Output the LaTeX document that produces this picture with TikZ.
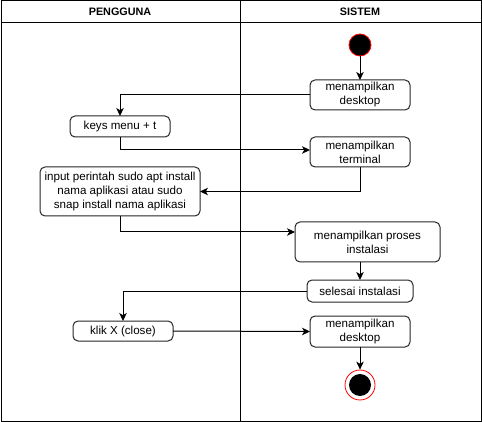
\documentclass[tikz,border=0pt]{standalone}
\usepackage{fontspec}
\setmainfont{Liberation Sans}
\usetikzlibrary{arrows.meta,calc}
\begin{document}
\begin{tikzpicture}[x=1pt,y=-1pt,
  every node/.style={font=\fontsize{11.6}{14}\selectfont},
  act/.style={draw=black!85, line width=1pt, rounded corners=5pt, fill=white,
    align=center, inner sep=0.5pt, outer sep=0pt},
  flow/.style={draw=black, line width=1pt, -{Stealth[length=8pt,width=7.5pt,inset=2.2pt]}},
  lane/.style={draw=black, line width=1pt},
  hdr/.style={font=\fontsize{10.8}{12}\selectfont\bfseries}]
\useasboundingbox (0,0) rectangle (482,422);

% swimlane frame
\draw[lane] (1,1) rectangle (481,421);
\draw[lane] (1,23) -- (481,23);
\draw[lane] (240,1) -- (240,421);
\node[hdr] (h1) at (120,12) {PENGGUNA};
\node[hdr] (h2) at (360,12) {SISTEM};

% start node
\node[circle, fill=black, draw=red, line width=0.8pt, minimum size=22pt, inner sep=0pt] (start) at (360,45) {};

% activities
\node[act, minimum width=100pt, minimum height=30pt] (d1) at (360,95) {menampilkan\\desktop};
\node[act, minimum width=100pt, minimum height=21pt] (keys) at (120,126.5) {keys menu + t};
\node[act, minimum width=100pt, minimum height=30pt] (term) at (360,152) {menampilkan\\terminal};
\node[act, minimum width=160pt, minimum height=49pt] (inp) at (120,191.5) {input perintah sudo apt install\\nama aplikasi atau sudo\\snap install nama aplikasi};
\node[act, minimum width=145pt, minimum height=40pt] (proc) at (367.5,242) {menampilkan proses\\instalasi};
\node[act, minimum width=106pt, minimum height=22pt] (sel) at (360,291) {selesai instalasi};
\node[act, minimum width=100pt, minimum height=20pt] (klik) at (123,331) {klik X (close)};
\node[act, minimum width=100pt, minimum height=31pt] (d2) at (360,331.5) {menampilkan\\desktop};

% end node
\node[circle, draw=red, fill=white, line width=0.8pt, minimum size=30pt, inner sep=0pt] (end) at (360,385) {};
\node[circle, fill=black, minimum size=22pt, inner sep=0pt] (endin) at (end.center) {};

% control flow
\draw[flow] (start) -- (d1);
\draw[flow] (d1.west) -| (keys.north);
\draw[flow] (keys.south) |- ([yshift=2pt]term.west);
\draw[flow] (term.south) |- (inp.east);
\draw[flow] (inp.south) |- ([yshift=10pt]proc.west);
\draw[flow] (proc.south -| sel.north) -- (sel.north);
\draw[flow] (sel.west) -| (klik.north);
\draw[flow] (klik.east) -- (d2.west);
\draw[flow] (d2.south) -- (end.north);
\end{tikzpicture}
\end{document}
